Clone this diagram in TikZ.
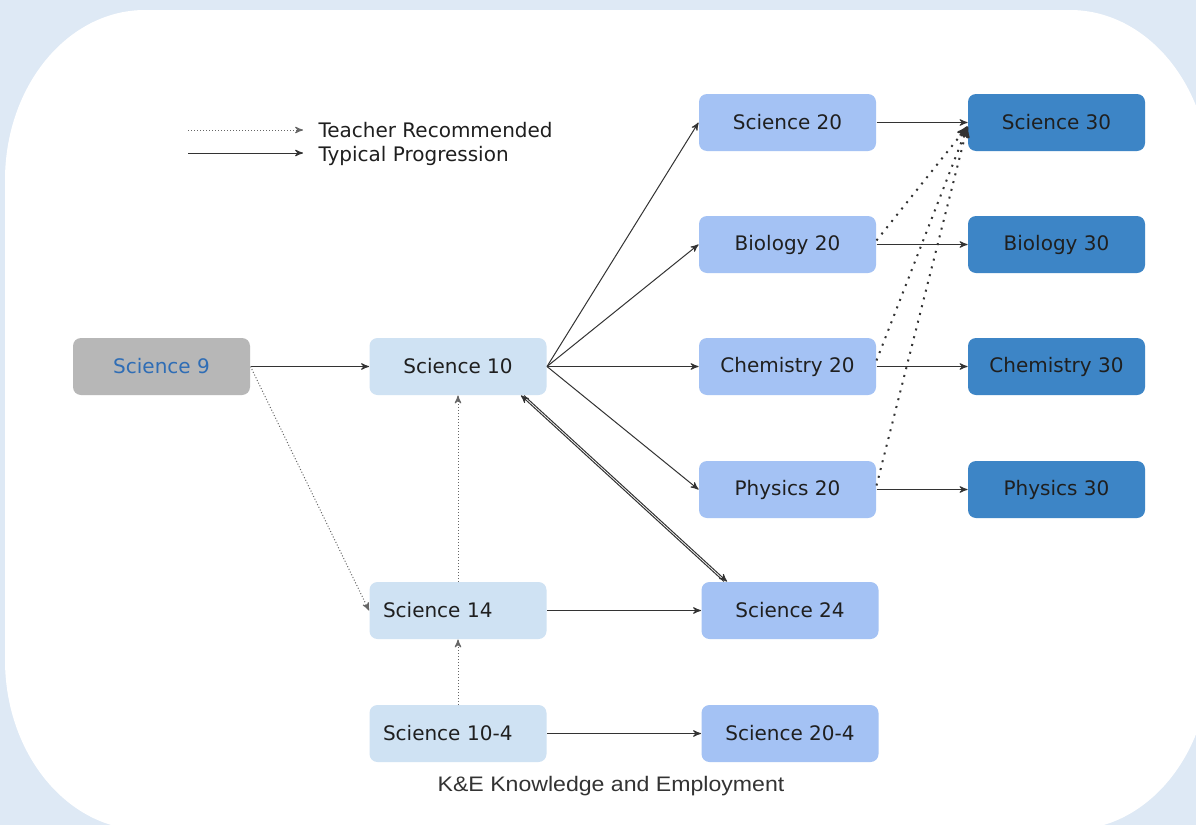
\documentclass[tikz,border=0pt]{standalone}
\usepackage{fontspec}
\setmainfont{DejaVu Sans}
\newfontfamily\notefont{Liberation Sans}
\usepackage{tikz}
\usetikzlibrary{arrows}

\definecolor{pageBlue}{HTML}{DEE9F5}
\definecolor{nineGray}{HTML}{B7B7B7}
\definecolor{nineText}{HTML}{2F6DB5}
\definecolor{tenBlue}{HTML}{CFE2F3}
\definecolor{twentyBlue}{HTML}{A4C2F4}
\definecolor{thirtyBlue}{HTML}{3D85C6}
\definecolor{lineGray}{HTML}{333333}

\begin{document}
\begin{tikzpicture}[x=0.5pt,y=-0.5pt,>=stealth',line width=0.5pt]
  \tikzstyle{course}=[rectangle,rounded corners=4pt,minimum width=88.5pt,
                      minimum height=28.5pt,inner sep=0pt,text=black!88,
                      font=\fontsize{10}{12}\selectfont]
  \tikzstyle{leftcourse}=[course,text width=75pt,align=left]
  \tikzstyle{typical}=[->,draw=lineGray]
  \tikzstyle{recommended}=[->,draw=lineGray!75,dash pattern=on 0.5pt off 1pt]
  \tikzstyle{recdark}=[->,draw=lineGray,line width=1pt,dash pattern=on 1pt off 3pt]
  \tikzstyle{legend}=[anchor=west,inner xsep=7.5pt,font=\fontsize{10}{12}\selectfont,text=black!88]

  % page and white panel
  \useasboundingbox (0,0) rectangle (1196,825);
  \clip (0,0) rectangle (1196,825);
  \fill[pageBlue] (0,0) rectangle (1196,825);
  \fill[white] (145,10) -- (1070,10)
    arc[start angle=90,end angle=0,x radius=70pt,y radius=85pt] -- (1210,660)
    arc[start angle=0,end angle=-90,x radius=70pt,y radius=85pt] -- (145,830)
    arc[start angle=270,end angle=180,x radius=70pt,y radius=85pt] -- (5,180)
    arc[start angle=180,end angle=90,x radius=70pt,y radius=85pt] -- cycle;

  % legend
  \coordinate (recStart) at (188,130);
  \coordinate (typStart) at (188,153);
  \node[legend] (recText) at (303,130) {Teacher Recommended};
  \node[legend] (typText) at (303,156) {Typical Progression};

  \node[course,fill=nineGray,text=nineText] (sci9) at (161.5,366.5) {Science 9};
  \node[course,fill=tenBlue]      (sci10)  at (458,366.5)    {Science 10};
  \node[leftcourse,fill=tenBlue]  (sci14)  at (458,610.5)    {Science 14};
  \node[leftcourse,fill=tenBlue]  (sci104) at (458,733.5)    {Science 10-4};
  \node[course,fill=twentyBlue]   (sci20)  at (787.5,122.5)  {Science 20};
  \node[course,fill=twentyBlue]   (bio20)  at (787.5,244.5)  {Biology 20};
  \node[course,fill=twentyBlue]   (chem20) at (787.5,366.5)  {Chemistry 20};
  \node[course,fill=twentyBlue]   (phys20) at (787.5,489.5)  {Physics 20};
  \node[course,fill=twentyBlue]   (sci24)  at (790,610.5)    {Science 24};
  \node[course,fill=twentyBlue]   (sci204) at (790,733.5)    {Science 20-4};
  \node[course,fill=thirtyBlue]   (sci30)  at (1056.5,122.5) {Science 30};
  \node[course,fill=thirtyBlue]   (bio30)  at (1056.5,244.5) {Biology 30};
  \node[course,fill=thirtyBlue]   (chem30) at (1056.5,366.5) {Chemistry 30};
  \node[course,fill=thirtyBlue]   (phys30) at (1056.5,489.5) {Physics 30};

  \node[font=\notefont\fontsize{10.5}{12}\selectfont,text=lineGray] (keNote) at (611,786)
    {\scalebox{1.1}[1]{K\&E Knowledge and Employment}};

  \path (recStart) edge[recommended] (recText.west)
        (typStart) edge[typical]     (typText.west |- typStart)
        (sci9)   edge[typical]     (sci10)
        (sci9.east) edge[recommended] (sci14.west)
        (sci10.east) edge[typical] (sci20.west)
        (sci10.east) edge[typical] (bio20.west)
        (sci10.east) edge[typical] (chem20.west)
        (sci10.east) edge[typical] (phys20.west)
        (sci14)  edge[typical]     (sci24)
        (sci104) edge[typical]     (sci204)
        (sci14)  edge[recommended] (sci10)
        (sci104) edge[recommended] (sci14)
        (sci20)  edge[typical]     (sci30)
        (bio20)  edge[typical]     (bio30)
        (chem20) edge[typical]     (chem30)
        (phys20) edge[typical]     (phys30);

  % back and forth between 24 and 10
  \draw[typical] ([xshift=11.5pt]sci24.north west) -- ([xshift=-13pt]sci10.south east);
  \draw[typical] ([xshift=-11.5pt]sci10.south east) -- ([xshift=13pt]sci24.north west);

  \path ([yshift=2pt]bio20.east)  edge[recdark] ([yshift=-2pt]sci30.west)
        ([yshift=3pt]chem20.east) edge[recdark] ([yshift=-2pt]sci30.west)
        ([yshift=2pt]phys20.east) edge[recdark] ([yshift=-2pt]sci30.west);
\end{tikzpicture}
\end{document}
